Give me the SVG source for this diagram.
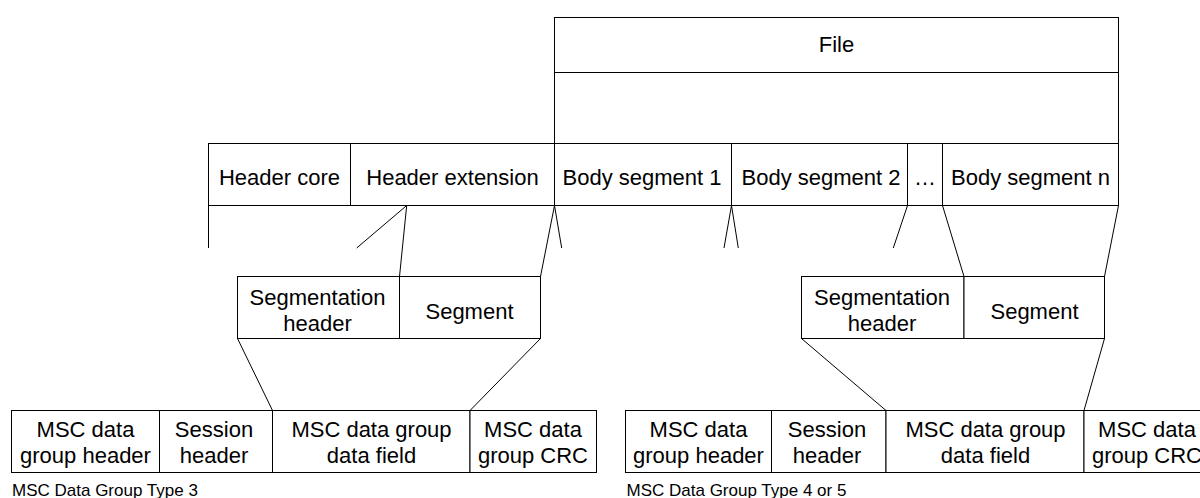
<svg xmlns="http://www.w3.org/2000/svg" width="1200" height="498" viewBox="0 0 1200 498">
<style>
  .box { fill: #ffffff; stroke: #000000; stroke-width: 1; }
  .ln { fill: none; stroke: #000000; stroke-width: 1; }
  .t { font-family: "Liberation Sans", Arial, sans-serif; font-size: 22px; fill: #000000; text-anchor: middle; }
  .lbl { font-family: "Liberation Sans", Arial, sans-serif; font-size: 17px; fill: #000000; }
</style>
<rect width="1200" height="498" fill="#ffffff"/>

<g id="file">
  <rect class="box" x="554.5" y="17.5" width="564" height="126"/>
  <line class="ln" x1="554.5" y1="72.5" x2="1118.5" y2="72.5"/>
  <text class="t" x="836.5" y="52">File</text>
</g>

<g id="header-core">
  <rect class="box" x="208.5" y="143.5" width="142" height="62"/>
  <text class="t" x="279.5" y="185">Header core</text>
</g>
<g id="header-extension">
  <rect class="box" x="350.5" y="143.5" width="204" height="62"/>
  <text class="t" x="452.5" y="185">Header extension</text>
</g>
<g id="body-segment-1">
  <rect class="box" x="554.5" y="143.5" width="177" height="62"/>
  <text class="t" x="642" y="185">Body segment 1</text>
</g>
<g id="body-segment-2">
  <rect class="box" x="731.5" y="143.5" width="176" height="62"/>
  <text class="t" x="821" y="185">Body segment 2</text>
</g>
<g id="ellipsis">
  <rect class="box" x="907.5" y="143.5" width="35" height="62"/>
  <text class="t" x="925" y="185">…</text>
</g>
<g id="body-segment-n">
  <rect class="box" x="942.5" y="143.5" width="176" height="62"/>
  <text class="t" x="1030.5" y="185">Body segment n</text>
</g>

<g id="seg1-header">
  <rect class="box" x="237.5" y="276.5" width="162" height="62"/>
  <text class="t" x="317.5" y="305">Segmentation</text>
  <text class="t" x="317.5" y="330.5">header</text>
</g>
<g id="seg1-segment">
  <rect class="box" x="399.5" y="276.5" width="141" height="62"/>
  <text class="t" x="469.5" y="319">Segment</text>
</g>

<g id="seg2-header">
  <rect class="box" x="801.5" y="276.5" width="162.5" height="62"/>
  <text class="t" x="882" y="305">Segmentation</text>
  <text class="t" x="882" y="330.5">header</text>
</g>
<g id="seg2-segment">
  <rect class="box" x="964" y="276.5" width="140.5" height="62"/>
  <text class="t" x="1034.5" y="319">Segment</text>
</g>

<g id="g3-header">
  <rect class="box" x="11.5" y="410.5" width="148" height="62"/>
  <text class="t" x="85.5" y="436.5">MSC data</text>
  <text class="t" x="85.5" y="462.5">group header</text>
</g>
<g id="g3-session">
  <rect class="box" x="159.5" y="410.5" width="113" height="62"/>
  <text class="t" x="214" y="436.5">Session</text>
  <text class="t" x="214" y="462.5">header</text>
</g>
<g id="g3-field">
  <rect class="box" x="272.5" y="410.5" width="197.5" height="62"/>
  <text class="t" x="371.5" y="436.5">MSC data group</text>
  <text class="t" x="371.5" y="462.5">data field</text>
</g>
<g id="g3-crc">
  <rect class="box" x="470" y="410.5" width="126.5" height="62"/>
  <text class="t" x="533" y="436.5">MSC data</text>
  <text class="t" x="533" y="462.5">group CRC</text>
</g>
<g id="g3-label">
  <text class="lbl" x="12" y="496">MSC Data Group Type 3</text>
</g>

<g id="g45-header">
  <rect class="box" x="625.5" y="410.5" width="146" height="62"/>
  <text class="t" x="698.5" y="436.5">MSC data</text>
  <text class="t" x="698.5" y="462.5">group header</text>
</g>
<g id="g45-session">
  <rect class="box" x="771.5" y="410.5" width="114.5" height="62"/>
  <text class="t" x="827" y="436.5">Session</text>
  <text class="t" x="827" y="462.5">header</text>
</g>
<g id="g45-field">
  <rect class="box" x="886" y="410.5" width="198" height="62"/>
  <text class="t" x="985.5" y="436.5">MSC data group</text>
  <text class="t" x="985.5" y="462.5">data field</text>
</g>
<g id="g45-crc">
  <rect class="box" x="1084" y="410.5" width="127" height="62"/>
  <text class="t" x="1147" y="436.5">MSC data</text>
  <text class="t" x="1147" y="462.5">group CRC</text>
</g>
<g id="g45-label">
  <text class="lbl" x="626.5" y="496">MSC Data Group Type 4 or 5</text>
</g>

<g id="connectors">
  <line class="ln" x1="208.5" y1="205.5" x2="208.5" y2="248"/>
  <line class="ln" x1="406.7" y1="205.5" x2="356.7" y2="248"/>
  <line class="ln" x1="406.7" y1="205.5" x2="399.5" y2="276.5"/>
  <line class="ln" x1="554.5" y1="205.5" x2="540.5" y2="276.5"/>
  <line class="ln" x1="554.5" y1="205.5" x2="561.7" y2="248"/>
  <line class="ln" x1="731.5" y1="205.5" x2="724" y2="248"/>
  <line class="ln" x1="731.5" y1="205.5" x2="738.3" y2="248"/>
  <line class="ln" x1="907.5" y1="205.5" x2="893.3" y2="248"/>
  <line class="ln" x1="942.5" y1="205.5" x2="964" y2="276.5"/>
  <line class="ln" x1="1118.5" y1="205.5" x2="1104.5" y2="276.5"/>
  <line class="ln" x1="237.5" y1="338.5" x2="272.5" y2="410.5"/>
  <line class="ln" x1="540.5" y1="338.5" x2="470" y2="410.5"/>
  <line class="ln" x1="801.5" y1="338.5" x2="886" y2="410.5"/>
  <line class="ln" x1="1104.5" y1="338.5" x2="1084" y2="410.5"/>
</g>
</svg>
